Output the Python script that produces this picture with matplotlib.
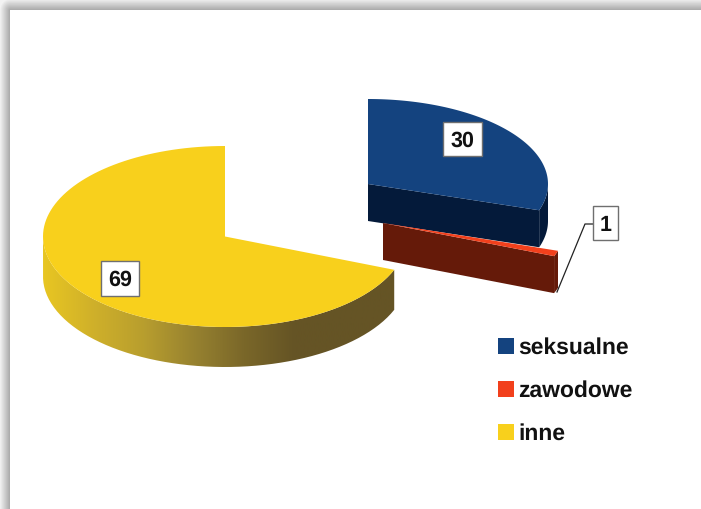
import numpy as np
import matplotlib.pyplot as plt
from matplotlib.patches import Polygon, PathPatch, Rectangle
from matplotlib.path import Path
from matplotlib.colors import LinearSegmentedColormap

plt.rcParams['font.family'] = ['Liberation Sans', 'DejaVu Sans']
plt.rcParams['text.hinting'] = 'no_hinting'

categories = ['seksualne', 'zawodowe', 'inne']
values = [30, 1, 69]
top_colors = ['#14437f', '#f2401c', '#f8d01c']
side_colors = ['#041a3a', '#651a09', '#655425']

# wedge centre x, y, radius x, radius y, depth (pixels)
geom = [(368, 185, 180, 85, 37),
        (383, 224, 184, 90, 37),
        (225, 237.5, 182, 90.5, 40)]
# label box x, y, width, height
label_box = [(443, 123, 39, 34), (593, 207, 25, 34), (101, 262, 38, 35)]


def arc(cx, cy, rx, ry, a0, a1, n=120):
    t = np.radians(np.linspace(a0, a1, n))
    return np.column_stack([cx + rx * np.sin(t), cy - ry * np.cos(t)])


fig = plt.figure(figsize=(7.01, 5.10), dpi=100)
ax = fig.add_axes([0, 0, 1, 1])
ax.axis('off')

# page shadow on the top and left edge
xx, yy = np.meshgrid(np.arange(701) + 0.5, np.arange(510) + 0.5)
dx = np.clip((10 - xx) / 10, 0, None)
dy = np.clip((11 - yy) / 11, 0, None)
dist = np.clip(np.hypot(dx, dy), 0, 1)
shadow = np.where((xx < 10) | (yy < 11), 0.66 + 0.29 * dist, 1.0)
ax.imshow(shadow, cmap='gray', vmin=0, vmax=1, extent=(0, 701, 510, 0), aspect='auto', zorder=0)

yellow_wall = LinearSegmentedColormap.from_list(
    'wall', ['#e8c622', '#cfb02a', '#b89e2e', '#978230', '#7a6729', '#655425', '#655425', '#655425'])

start = 0
for i, v in enumerate(values):
    sweep = v / sum(values) * 360
    a0, a1 = start, start + sweep
    start = a1
    cx, cy, rx, ry, depth = geom[i]
    rim = arc(cx, cy, rx, ry, a0, a1)

    # cut faces
    if i < 2:
        far = rim[-1]
        ax.add_patch(Polygon([(cx, cy), far, far + (0, depth), (cx, cy + depth)],
                             fc=side_colors[i], ec='none', zorder=2 + i))
    # outer wall, only the part turned to the viewer
    w0, w1 = max(a0, 90), min(a1, 270)
    if w1 > w0:
        low = arc(cx, cy + depth, rx, ry, w0, w1)
        high = arc(cx, cy, rx, ry, w0, w1)
        wall = np.vstack([high, low[::-1]])
        if i == 2:
            im = ax.imshow(np.linspace(0, 1, 256).reshape(1, -1), cmap=yellow_wall,
                           extent=(wall[:, 0].min(), wall[:, 0].max(), 510, 0),
                           aspect='auto', zorder=2)
            clip = PathPatch(Path(wall), transform=ax.transData, fc='none', ec='none')
            ax.add_patch(clip)
            im.set_clip_path(clip)
        else:
            ax.add_patch(Polygon(wall, fc=side_colors[i], ec='none', zorder=2 + i))
    # top face
    ax.add_patch(Polygon(np.vstack([[(cx, cy)], rim]), fc=top_colors[i], ec='none', zorder=3 + i))

ax.set_xlim(0, 701)
ax.set_ylim(510, 0)

# leader line of the small slice
ax.plot([593, 585, 557], [225, 225, 293], color='#222222', lw=0.9, zorder=9)

# value labels
for v, (bx, by, bw, bh) in zip(values, label_box):
    ax.add_patch(Rectangle((bx, by), bw, bh, fc='white', ec='#6f6f6f', lw=1, zorder=10))
    ax.text(bx + bw / 2, by + bh / 2 + 1, str(v), fontsize=15.5, fontweight='bold',
            color='#111111', ha='center', va='center', zorder=11)

# legend
legend_y = [347, 390, 433]
for name, col, y in zip(categories, top_colors, legend_y):
    ax.add_patch(Rectangle((498, y - 8), 16, 16, fc=col, ec='none', zorder=5))
    ax.text(518, y + 0.5, name, fontsize=16.5, fontweight='bold', color='#111111', va='center', ha='left', zorder=5)

fig.savefig('out.png', dpi=100)
